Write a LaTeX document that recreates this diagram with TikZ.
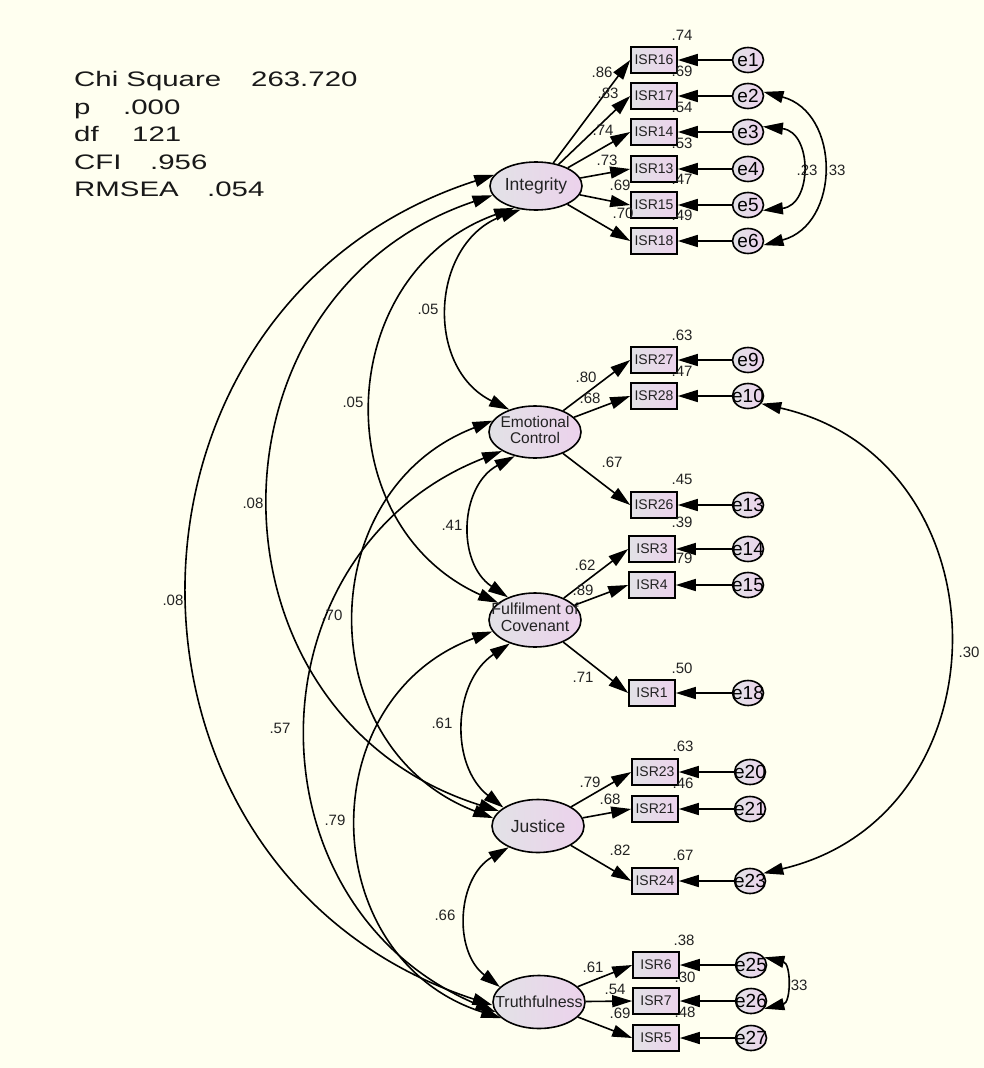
\documentclass[tikz,border=0pt]{standalone}
\usepackage{fontspec}
\setmainfont{Liberation Sans}
\usetikzlibrary{shapes.geometric,arrows.meta}
\definecolor{bg}{RGB}{255,255,240}
\definecolor{lg}{RGB}{226,226,230}
\definecolor{lp}{RGB}{236,210,236}
\definecolor{tx}{RGB}{35,35,35}
\newcommand\zb[1]{\makebox[0pt]{#1}}
\newcommand\sx[1]{\scalebox{1.4}[1]{#1}}
\begin{document}
\begin{tikzpicture}[x=1pt,y=1pt,
  lat/.style={ellipse, draw, line width=1.6pt, left color=lg, right color=lp, minimum width=92pt, minimum height=50pt, inner sep=0pt, text=tx},
  obs/.style={rectangle, draw, line width=1.6pt, left color=lg, right color=lp, minimum width=46pt, minimum height=26pt, inner sep=0pt, font=\fontsize{14}{14}\selectfont, text=tx},
  err/.style={ellipse, draw, line width=1.6pt, left color=lg, right color=lp, minimum width=31pt, minimum height=25pt, inner sep=0pt, font=\fontsize{19}{19}\selectfont, text=black},
  lbl/.style={font=\fontsize{15}{15}\selectfont, text=tx, inner sep=0pt},
  st/.style={font=\fontsize{21}{21}\selectfont, text=black!90, inner sep=0pt, anchor=base west},
  ld/.style={line width=1.6pt, -{Triangle[length=20pt,width=12pt]}},
  cv/.style={line width=1.6pt, {Triangle[length=20pt,width=12pt]}-{Triangle[length=20pt,width=12pt]}},
]
\fill[bg] (0,0) rectangle (984,-1068);
\useasboundingbox (0,0) rectangle (984,-1068);

% fit statistics
\node[st] (s1) at (74,-86.5) {\sx{Chi Square}};
\node[st] (s2) at (251,-86.5) {\sx{263.720}};
\node[st] (s3) at (74,-114) {\sx{p}};
\node[st] (s4) at (123,-114) {\sx{.000}};
\node[st] (s5) at (74,-141.5) {\sx{df}};
\node[st] (s6) at (132,-141.5) {\sx{121}};
\node[st] (s7) at (74,-169) {\sx{CFI}};
\node[st] (s8) at (150,-169) {\sx{.956}};
\node[st] (s9) at (74,-196.5) {\sx{RMSEA}};
\node[st] (s10) at (207,-196.5) {\sx{.054}};

% latent variables
\node[lat, minimum height=48pt, font=\fontsize{17.5}{17.5}\selectfont] (int) at (536,-186) {\zb{Integrity}};
\node[lat, minimum height=52pt, font=\fontsize{15.5}{14.5}\selectfont] (ec) at (535,-432) {\zb{\begin{tabular}{@{}c@{}}Emotional\\Control\end{tabular}}};
\node[lat, minimum height=54pt, font=\fontsize{16}{17}\selectfont] (ful) at (535,-620) {\zb{\begin{tabular}{@{}c@{}}Fulfilment of\\Covenant\end{tabular}}};
\node[lat, minimum height=53pt, font=\fontsize{17.5}{17.5}\selectfont] (jus) at (538,-826) {\zb{Justice}};
\node[lat, minimum height=53pt, font=\fontsize{16}{16}\selectfont] (tru) at (539,-1002) {\zb{Truthfulness}};

% observed variables
\node[obs] (i16) at (654,-60) {ISR16};
\node[obs] (i17) at (654,-96) {ISR17};
\node[obs] (i14) at (654,-132) {ISR14};
\node[obs] (i13) at (654,-169) {ISR13};
\node[obs] (i15) at (654,-205) {ISR15};
\node[obs] (i18) at (654,-241) {ISR18};
\node[obs] (i27) at (654,-360) {ISR27};
\node[obs] (i28) at (654,-396) {ISR28};
\node[obs] (i26) at (654,-505) {ISR26};
\node[obs] (i3) at (652,-549) {ISR3};
\node[obs] (i4) at (652,-585) {ISR4};
\node[obs] (i1) at (652,-693) {ISR1};
\node[obs] (i23) at (655,-772) {ISR23};
\node[obs] (i21) at (655,-809) {ISR21};
\node[obs] (i24) at (655,-881) {ISR24};
\node[obs] (i6) at (656,-965) {ISR6};
\node[obs] (i7) at (656,-1001) {ISR7};
\node[obs] (i5) at (656,-1038) {ISR5};

% error terms
\node[err] (e1) at (748,-60) {\zb{e1}};
\node[err] (e2) at (748,-96) {\zb{e2}};
\node[err] (e3) at (748,-132) {\zb{e3}};
\node[err] (e4) at (748,-169) {\zb{e4}};
\node[err] (e5) at (748,-205) {\zb{e5}};
\node[err] (e6) at (748,-241) {\zb{e6}};
\node[err] (e9) at (748,-360) {\zb{e9}};
\node[err] (e10) at (748,-396) {\zb{e10}};
\node[err] (e13) at (748,-505) {\zb{e13}};
\node[err] (e14) at (748,-549) {\zb{e14}};
\node[err] (e15) at (748,-585) {\zb{e15}};
\node[err] (e18) at (748,-693) {\zb{e18}};
\node[err] (e20) at (750,-772) {\zb{e20}};
\node[err] (e21) at (750,-809) {\zb{e21}};
\node[err] (e23) at (750,-881) {\zb{e23}};
\node[err] (e25) at (751,-965) {\zb{e25}};
\node[err] (e26) at (751,-1001) {\zb{e26}};
\node[err] (e27) at (751,-1038) {\zb{e27}};

% loadings
\foreach \l/\o in {int/i16,int/i17,int/i14,int/i13,int/i15,int/i18,ec/i27,ec/i28,ec/i26,ful/i3,ful/i4,ful/i1,jus/i23,jus/i21,jus/i24,tru/i6,tru/i7,tru/i5}
  \draw[ld] (\l) -- (\o.west);
\foreach \e/\o in {e1/i16,e2/i17,e3/i14,e4/i13,e5/i15,e6/i18,e9/i27,e10/i28,e13/i26,e14/i3,e15/i4,e18/i1,e20/i23,e21/i21,e23/i24,e25/i6,e26/i7,e27/i5}
  \draw[ld] (\e) -- (\o);

% covariances between factors
\draw[cv] (int.237) to[bend right=67, looseness=1.22] (ec.139);
\draw[cv] (int.225) to[bend right=68, looseness=1.24] (ful.155);
\draw[cv] (int.192) to[bend right=72, looseness=1.31] (jus.159);
\draw[cv] (int.165) to[bend right=72, looseness=1.31] (tru.184);
\draw[cv] (ec.230) to[bend right=59, looseness=1.13] (ful.140);
\draw[cv] (ec.165) to[bend right=69, looseness=1.26] (jus.170);
\draw[cv] (ec.210) to[bend right=68, looseness=1.25] (tru.193);
\draw[cv] (ful.223) to[bend right=54, looseness=1.07] (jus.152);
\draw[cv] (ful.195) to[bend right=71, looseness=1.29] (tru.203);
\draw[cv] (jus.216) to[bend right=56, looseness=1.09] (tru.159);
% covariances between errors
\draw[cv] (e2.15) to[bend left=75, looseness=1.34] (e6.-15);
\draw[cv] (e3.20) to[bend left=84, looseness=1.53] (e5.-20);
\draw[cv] (e10.-30) to[bend left=77, looseness=1.38] (e23.30);
\draw[cv] (e25.30) to[bend left=77, looseness=1.38] (e26.-30);

% loading labels
\node[lbl] (a1) at (602,-72) {.86};
\node[lbl] (a2) at (608,-93) {.83};
\node[lbl] (a3) at (603,-130) {.74};
\node[lbl] (a4) at (607,-160) {.73};
\node[lbl] (a5) at (620,-185) {.69};
\node[lbl] (a6) at (623,-213) {.70};
\node[lbl] (a7) at (586,-377) {.80};
\node[lbl] (a8) at (590,-398) {.68};
\node[lbl] (a9) at (612,-462) {.67};
\node[lbl] (a10) at (585,-565) {.62};
\node[lbl] (a11) at (583,-590) {.89};
\node[lbl] (a12) at (583,-677) {.71};
\node[lbl] (a13) at (590,-782) {.79};
\node[lbl] (a14) at (610,-799) {.68};
\node[lbl] (a15) at (620,-850) {.82};
\node[lbl] (a16) at (593,-967) {.61};
\node[lbl] (a17) at (615,-989) {.54};
\node[lbl] (a18) at (620,-1013) {.69};
% squared multiple correlations
\node[lbl] (r1) at (682,-35) {.74};
\node[lbl] (r2) at (682,-71) {.69};
\node[lbl] (r3) at (682,-107) {.54};
\node[lbl] (r4) at (682,-143) {.53};
\node[lbl] (r5) at (682,-179) {.47};
\node[lbl] (r6) at (682,-215) {.49};
\node[lbl] (r7) at (682,-335) {.63};
\node[lbl] (r8) at (682,-371) {.47};
\node[lbl] (r9) at (682,-479) {.45};
\node[lbl] (r10) at (682,-522) {.39};
\node[lbl] (r11) at (682,-558) {.79};
\node[lbl] (r12) at (682,-668) {.50};
\node[lbl] (r13) at (683,-746) {.63};
\node[lbl] (r14) at (683,-783) {.46};
\node[lbl] (r15) at (683,-855) {.67};
\node[lbl] (r16) at (684,-940) {.38};
\node[lbl] (r17) at (685,-977) {.30};
\node[lbl] (r18) at (685,-1012) {.48};
% covariance labels
\node[lbl] (c1) at (428,-309) {.05};
\node[lbl] (c2) at (353,-402) {.05};
\node[lbl] (c3) at (253,-503) {.08};
\node[lbl] (c4) at (173,-600) {.08};
\node[lbl] (c5) at (452,-525) {.41};
\node[lbl] (c6) at (332,-615) {.70};
\node[lbl] (c7) at (280,-728) {.57};
\node[lbl] (c8) at (442,-723) {.61};
\node[lbl] (c9) at (335,-820) {.79};
\node[lbl] (c10) at (445,-915) {.66};
\node[lbl] (c11) at (969,-652) {.30};
\node[lbl] (c12) at (835,-170) {.33};
\node[lbl] (c13) at (807,-170) {.23};
\node[lbl] (c14) at (797,-985) {.33};
\end{tikzpicture}
\end{document}
